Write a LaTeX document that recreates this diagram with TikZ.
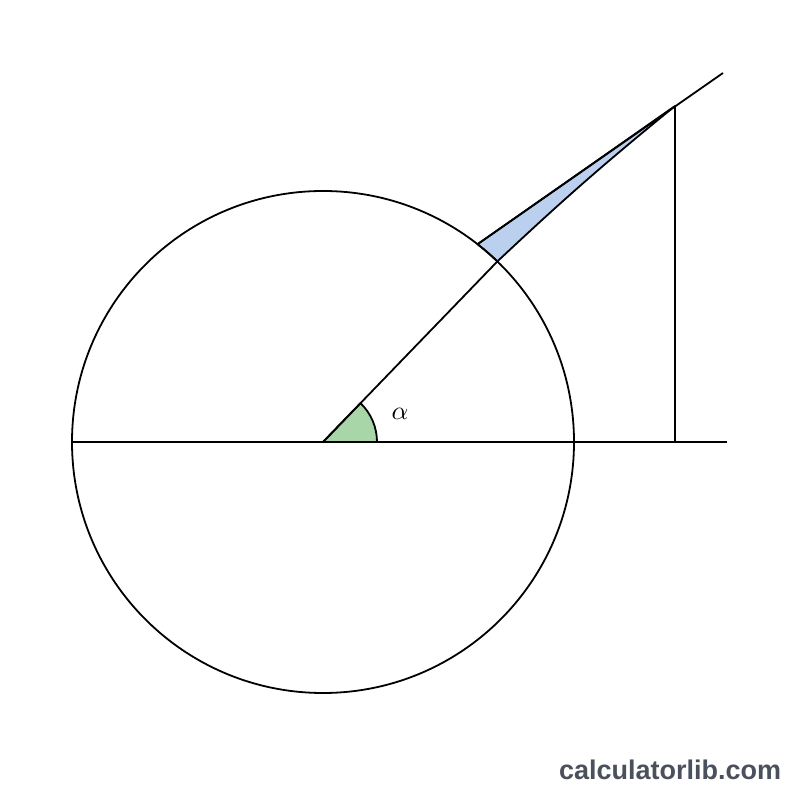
\documentclass[tikz,border=0pt]{standalone}
\usepackage{fontspec}
\newfontfamily\brandfont{Liberation Sans}
\definecolor{wedgeBlue}{RGB}{186, 208, 238}
\definecolor{angleGreen}{RGB}{168, 214, 168}
\definecolor{brandGray}{RGB}{74, 80, 92}
\usetikzlibrary{positioning,calc}

\begin{document}
\begin{tikzpicture}[x=1pt, y=1pt, line width=1.8pt, line join=round,
    every node/.style={inner sep=0pt}]
    \useasboundingbox (0,0) rectangle (800,800);

    % main points
    \coordinate (O) at (323,358);
    \coordinate (A) at ($(O)+(46:251)$);
    \coordinate (B) at ($(O)+(52:251)$);
    \coordinate (P) at (675,694);
    \coordinate (E) at (723,727);
    \coordinate (F) at (675,358);
    \coordinate (L) at ($(O)+(180:251)$);
    \coordinate (R) at (727,358);

    % shaded regions
    \filldraw[fill=angleGreen, draw=black] (O) -- ($(O)+(0:54)$) arc[start angle=0, end angle=46, radius=54] -- cycle;
    \filldraw[fill=wedgeBlue, draw=black] (B) arc[start angle=52, end angle=46, radius=251] to[bend left=2] (P) -- cycle;

    % lines
    \draw (O) circle[radius=251];
    \draw (L) -- (R);
    \draw (O) -- (A);
    \draw (B) -- (E);
    \draw (P) -- (F);

    \node[scale=2.6] (alpha) at (400,386) {$\alpha$};
    \node[anchor=base east, text=brandGray] (brand) at (782,20) {\brandfont\bfseries\fontsize{27}{30}\selectfont calculatorlib.com};
\end{tikzpicture}
\end{document}
